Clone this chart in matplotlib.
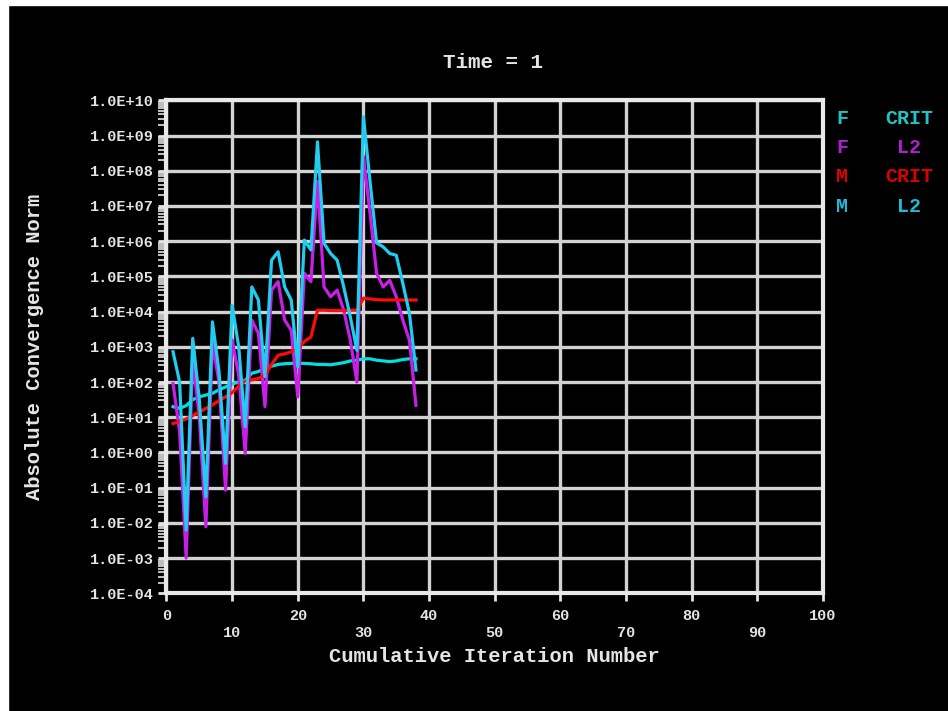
import numpy as np
import matplotlib.pyplot as plt
from matplotlib.patches import Rectangle
from matplotlib.ticker import LogLocator, FuncFormatter, NullFormatter

# Data (exponents), cumulative iterations 1..38
iters = np.arange(1, 39)

f_crit_exp = [1.30, 1.25, 1.33, 1.50, 1.58, 1.63, 1.68, 1.78, 1.86, 1.95,
              2.00, 2.05, 2.25, 2.30, 2.40, 2.45, 2.50, 2.52, 2.53, 2.53,
              2.53, 2.52, 2.50, 2.50, 2.49, 2.52, 2.55, 2.60, 2.62, 2.66,
              2.66, 2.62, 2.60, 2.58, 2.60, 2.64, 2.66, 2.66]

f_l2_exp = [1.96, 0.60, -3.00, 2.70, 1.00, -2.11, 3.10, 2.00, -1.07, 3.20,
            2.20, -0.03, 3.76, 3.38, 1.30, 4.61, 4.85, 3.76, 3.47, 1.58,
            5.09, 4.85, 7.70, 4.70, 4.42, 4.61, 4.04, 3.19, 2.00, 8.40,
            6.80, 5.09, 4.70, 4.89, 4.42, 3.76, 3.19, 1.34]

m_crit_exp = [0.82, 0.88, 0.95, 1.05, 1.15, 1.25, 1.35, 1.47, 1.58, 1.70,
              1.88, 2.03, 2.06, 2.10, 2.20, 2.50, 2.76, 2.80, 2.86, 2.95,
              3.15, 3.28, 4.04, 4.04, 4.03, 4.03, 4.03, 4.04, 4.04, 4.38,
              4.36, 4.34, 4.33, 4.33, 4.33, 4.33, 4.33, 4.33]

m_l2_exp = [2.86, 2.00, -2.20, 3.24, 1.50, -1.26, 3.71, 2.30, -0.31, 4.18,
            3.00, 0.73, 4.70, 4.33, 2.15, 5.46, 5.70, 4.70, 4.33, 2.43,
            6.03, 5.75, 8.82, 5.94, 5.65, 5.46, 4.70, 3.85, 2.90, 9.53,
            7.70, 5.95, 5.84, 5.65, 5.60, 4.80, 3.95, 2.34]

series = [
    ("F", "CRIT", f_crit_exp, "#00e0e0", "#20c4c4"),
    ("F", "L2", f_l2_exp, "#c81ee8", "#b020d0"),
    ("M", "CRIT", m_crit_exp, "#ff0a0a", "#dd0000"),
    ("M", "L2", m_l2_exp, "#20cdf0", "#20b8d8"),
]

x_ticks = list(range(0, 101, 10))

plt.rcParams['font.family'] = ['Liberation Mono', 'DejaVu Sans Mono']
plt.rcParams['font.weight'] = 'bold'
plt.rcParams['axes.labelweight'] = 'bold'

txt = "#e4e4e4"
grid_c = "#d2d2d2"

fig = plt.figure(figsize=(9.48, 7.11), dpi=100, facecolor="black")
# white strips on the left and top edge
fig.add_artist(Rectangle((0, 0), 8 / 948, 1, transform=fig.transFigure,
                         color="white", zorder=0))
fig.add_artist(Rectangle((0, 1 - 5 / 711), 1, 5 / 711, transform=fig.transFigure,
                         color="white", zorder=0))

ax = fig.add_axes([0.1756, 0.1655, 0.6926, 0.6934])
ax.set_facecolor("black")

for name, kind, vals, col, _ in series:
    ax.plot(iters, 10.0 ** np.array(vals), color=col, lw=2.3, zorder=3)

ax.set_yscale("log")
ax.set_xlim(0, 100)
ax.set_ylim(1e-4, 1e10)

ax.set_xticks(x_ticks)
ax.set_xticklabels([str(v) if k % 2 == 0 else "\n" + str(v)
                    for k, v in enumerate(x_ticks)])
for lab in ax.get_xticklabels():
    lab.set_linespacing(1.3)

ax.yaxis.set_major_locator(LogLocator(base=10, numticks=20))
ax.yaxis.set_minor_locator(LogLocator(base=10, subs=np.arange(2, 10), numticks=20))
ax.yaxis.set_minor_formatter(NullFormatter())
ax.yaxis.set_major_formatter(FuncFormatter(lambda v, p: f"{v:.1E}"))

ax.tick_params(axis="both", which="major", colors=txt, labelsize=11,
               length=6, width=2)
ax.tick_params(axis="x", pad=5)
ax.tick_params(axis="y", pad=3)
ax.tick_params(axis="y", which="minor", colors=txt, length=6, width=1.2)

ax.grid(True, which="major", color=grid_c, lw=2.4, zorder=1)
for s in ax.spines.values():
    s.set_color("#e8e8e8")
    s.set_linewidth(3)

ax.set_xlabel("Cumulative Iteration Number", color=txt, fontsize=14.8,
              fontweight="bold")
ax.xaxis.set_label_coords(0.5, -0.128)
ax.xaxis.label.set_va("center")
ax.set_ylabel("Absolute Convergence Norm", color=txt, fontsize=14.8,
              fontweight="bold")
ax.yaxis.set_label_coords(-0.2003, 0.5)
ax.yaxis.label.set_va("center")

fig.text(493 / 948, 1 - 63 / 711, "Time = 1", color=txt, fontsize=15,
         fontweight="bold", ha="center", va="center")

# legend text on the right
for k, (name, kind, vals, col, lcol) in enumerate(series):
    yy = 1 - (118 + 29.5 * k) / 711
    fig.text(842 / 948, yy, name, color=lcol, fontsize=14.4, fontweight="bold",
             ha="center", va="center")
    fig.text(909 / 948, yy, kind, color=lcol, fontsize=14.4, fontweight="bold",
             ha="center", va="center")

fig.savefig("out.png", dpi=100, facecolor=fig.get_facecolor())
